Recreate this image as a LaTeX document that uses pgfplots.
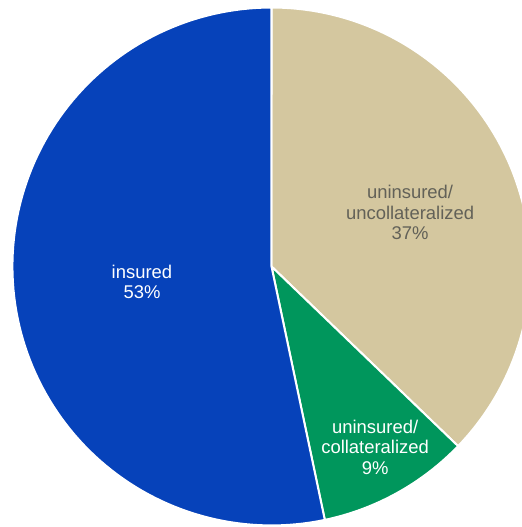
\documentclass[border=0pt]{standalone}
\usepackage{pgfplots}
\pgfplotsset{compat=1.18}
\usepackage{pgfplotstable}
\usepackage{fontspec}
\setmainfont{Liberation Sans}
\definecolor{pieblue}{RGB}{6,66,186}
\definecolor{piebeige}{RGB}{212,199,159}
\definecolor{piegreen}{RGB}{0,150,92}
\definecolor{labelgray}{RGB}{98,97,88}
% share of each slice (percent), clockwise from the top
\pgfplotstableread{
name value
uncollateralized 37.2
collateralized 9.5
insured 53.3
}\piedata
\pgfplotstablegetelem{0}{value}\of\piedata \let\vA\pgfplotsretval
\pgfplotstablegetelem{1}{value}\of\piedata \let\vB\pgfplotsretval
\pgfplotstablegetelem{2}{value}\of\piedata \let\vC\pgfplotsretval
\pgfmathsetmacro\aS{90}
\pgfmathsetmacro\aA{90-3.6*\vA}
\pgfmathsetmacro\aB{\aA-3.6*\vB}
\pgfmathsetmacro\aC{\aB-3.6*\vC}
\begin{document}
\begin{tikzpicture}
\begin{axis}[
  width=522bp, height=527bp, scale only axis,
  xmin=-1.048, xmax=0.967, ymin=-1.006, ymax=1.029,
  hide axis, clip=true,
]
\addplot[fill=piebeige, draw=white, line width=2bp, domain=\aA:\aS, samples=90, smooth=false]
  ({cos(x)},{sin(x)}) -- (axis cs:0,0) -- cycle;
\addplot[fill=piegreen, draw=white, line width=2bp, domain=\aB:\aA, samples=40]
  ({cos(x)},{sin(x)}) -- (axis cs:0,0) -- cycle;
\addplot[fill=pieblue, draw=white, line width=2bp, domain=\aC:\aB, samples=120]
  ({cos(x)},{sin(x)}) -- (axis cs:0,0) -- cycle;
\node[align=center, text=labelgray, font=\fontsize{18.5}{20.6}\selectfont]
  at (axis cs:0.535,0.207) {uninsured/\\uncollateralized\\37\%};
\node[align=center, text=white, font=\fontsize{18.5}{20.6}\selectfont]
  at (axis cs:0.40,-0.697) {uninsured/\\collateralized\\9\%};
\node[align=center, text=white, font=\fontsize{18.5}{20.6}\selectfont]
  at (axis cs:-0.50,-0.06) {insured\\53\%};
\end{axis}
\pgfresetboundingbox
\useasboundingbox (current axis.south west) rectangle (current axis.north east);
\end{tikzpicture}
\end{document}
